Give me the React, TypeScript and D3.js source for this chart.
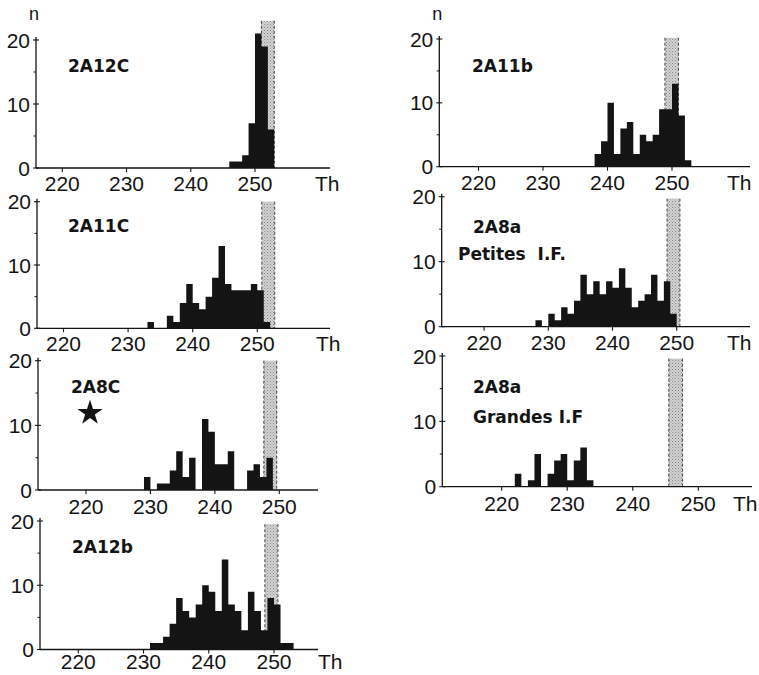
import React from "react";
import * as d3 from "d3";

// ---- data ----
const panelNames = ["2A12C", "2A11C", "2A8C", "2A12b", "2A11b", "2A8a", "2A8a"];
const panelSubtitles = ["", "", "", "", "", "Petites  I.F.", "Grandes I.F"];
const binStarts = [246, 233, 229, 231, 238, 228, 222];

const counts2A12C = [1, 1, 2, 7, 21, 19, 6];
const counts2A11C = [1, 0, 0, 2, 1, 4, 7, 4, 3, 5, 8, 13, 7, 6, 6, 6, 7, 6, 1];
const counts2A8C = [2, 0, 1, 1, 3, 6, 2, 5, 0, 11, 9, 4, 4, 6, 0, 0, 3, 4, 2, 5];
const counts2A12b = [1, 1, 2, 4, 8, 6, 5, 7, 10, 9, 6, 14, 7, 6, 3, 9, 6, 3, 8, 7, 1, 1];
const counts2A11b = [2, 4, 10, 2, 6, 7, 2, 5, 4, 5, 9, 9, 13, 8, 1];
const counts2A8aPetites = [1, 0, 2, 1, 3, 2, 4, 8, 5, 7, 5, 7, 6, 9, 6, 3, 4, 5, 8, 4, 7, 2];
const counts2A8aGrandes = [2, 0, 1, 5, 0, 2, 4, 5, 1, 4, 6, 1];
const panelCounts = [
  counts2A12C, counts2A11C, counts2A8C, counts2A12b,
  counts2A11b, counts2A8aPetites, counts2A8aGrandes,
];

const bandLow = [251, 250.7, 247.6, 248.6, 248.9, 248.5, 245.5];
const bandHigh = [253, 252.7, 249.6, 250.6, 251, 250.5, 247.6];
const bandTop = [23, 20, 20, 19.5, 20.2, 19.7, 19.6];

const xTickValues = [220, 230, 240, 250];
const yTickValues = [0, 10, 20];
const yMinorTicks = [5, 15];
const xAxisTitle = "Th";
const yAxisTitle = "n";

// ---- layout (pixel placement of each panel in the scanned figure) ----
type Layout = {
  axisX: number; axisEnd: number; y0: number; y20: number;
  a: [number, number]; b: [number, number];
  tickLabelDy: number;
  showTh: boolean; thX: number; showN: boolean;
  labelX: number; labelY: number; subX?: number; subY?: number;
  star?: [number, number];
};
const layouts: Layout[] = [
  { axisX: 36, axisEnd: 330, y0: 168, y20: 40, a: [220, 62.3], b: [250, 255], tickLabelDy: 23, showTh: true, thX: 315, showN: true, labelX: 68, labelY: 72 },
  { axisX: 37, axisEnd: 330, y0: 328.3, y20: 201.7, a: [240, 192.7], b: [250, 257.3], tickLabelDy: 23, showTh: true, thX: 316, showN: false, labelX: 68, labelY: 232 },
  { axisX: 38, axisEnd: 318, y0: 490, y20: 360.7, a: [220, 86], b: [250, 279.3], tickLabelDy: 23.5, showTh: false, thX: 0, showN: false, labelX: 71, labelY: 393, star: [90, 413] },
  { axisX: 40, axisEnd: 318, y0: 649.5, y20: 521, a: [230, 143.5], b: [250, 274], tickLabelDy: 19.5, showTh: true, thX: 318, showN: false, labelX: 72, labelY: 553 },
  { axisX: 439.3, axisEnd: 750, y0: 166.7, y20: 39, a: [230, 543], b: [250, 672], tickLabelDy: 23, showTh: true, thX: 727, showN: true, labelX: 472, labelY: 72 },
  { axisX: 441.7, axisEnd: 750, y0: 326.7, y20: 196.7, a: [230, 548.3], b: [250, 676.7], tickLabelDy: 23, showTh: true, thX: 727, showN: false, labelX: 473, labelY: 233, subX: 458, subY: 260 },
  { axisX: 442.3, axisEnd: 752, y0: 486.7, y20: 356, a: [220, 501.7], b: [250, 698.3], tickLabelDy: 24, showTh: true, thX: 733, showN: false, labelX: 473, labelY: 393, subX: 473, subY: 423 },
];

const INK = "#141414";
const NUM_FONT = "'Liberation Sans', Arial, sans-serif";
const LABEL_FONT = "'DejaVu Sans', sans-serif";

function Panel({ idx }: { idx: number }) {
  const L = layouts[idx];
  const x = d3.scaleLinear().domain([L.a[0], L.b[0]]).range([L.a[1], L.b[1]]);
  const y = d3.scaleLinear().domain([0, 20]).range([L.y0, L.y20]);
  const counts = panelCounts[idx];
  const start = binStarts[idx];
  const bx0 = x(bandLow[idx]);
  const bx1 = x(bandHigh[idx]);
  const byTop = y(bandTop[idx]);
  const starPath = d3.symbol().type(d3.symbolStar).size(200)() || "";
  // histogram outline as one stepped area (bin edges), so bins join without seams
  const stepPts: [number, number][] = counts.map((c, i) => [start + i, c] as [number, number]);
  stepPts.push([start + counts.length, counts[counts.length - 1]]);
  const histArea = d3
    .area<[number, number]>()
    .x((d) => x(d[0]))
    .y0(L.y0)
    .y1((d) => y(d[1]))
    .curve(d3.curveStepAfter);
  return (
    <g>
      {/* shaded band */}
      <rect x={bx0} y={byTop} width={bx1 - bx0} height={L.y0 - byTop} fill="url(#stipple)" />
      <line x1={bx0} x2={bx0} y1={byTop} y2={L.y0} stroke="#333" strokeWidth={0.9} strokeDasharray="3,2" />
      <line x1={bx1} x2={bx1} y1={byTop} y2={L.y0} stroke="#333" strokeWidth={0.9} strokeDasharray="3,2" />
      {/* bars */}
      <path d={histArea(stepPts) || ""} fill={INK} />
      {/* axes */}
      <line x1={L.axisX} x2={L.axisEnd} y1={L.y0} y2={L.y0} stroke={INK} strokeWidth={1.3} />
      <line x1={L.axisX} x2={L.axisX} y1={L.y0} y2={L.y20 - 3} stroke={INK} strokeWidth={1.3} />
      {yTickValues.map((v) => (
        <g key={v}>
          <line x1={L.axisX - 3} x2={L.axisX + 3} y1={y(v)} y2={y(v)} stroke={INK} strokeWidth={1.1} />
          <text x={L.axisX - 6} y={y(v) + 7.5} textAnchor="end" fontFamily={NUM_FONT} fontSize={21} fill={INK}>{v}</text>
        </g>
      ))}
      {yMinorTicks.map((v) => (
        <line key={v} x1={L.axisX - 2.5} x2={L.axisX} y1={y(v)} y2={y(v)} stroke={INK} strokeWidth={1} />
      ))}
      {xTickValues.map((v) => (
        <g key={v}>
          <line x1={x(v)} x2={x(v)} y1={L.y0} y2={L.y0 + 4} stroke={INK} strokeWidth={1.1} />
          <text x={x(v)} y={L.y0 + L.tickLabelDy} textAnchor="middle" fontFamily={NUM_FONT} fontSize={21} fill={INK}>{v}</text>
        </g>
      ))}
      {L.showTh && (
        <text x={L.thX} y={L.y0 + L.tickLabelDy} fontFamily={NUM_FONT} fontSize={21} fill={INK}>{xAxisTitle}</text>
      )}
      {L.showN && (
        <text x={L.axisX - 2} y={20} textAnchor="middle" fontFamily={NUM_FONT} fontSize={18} fill={INK}>{yAxisTitle}</text>
      )}
      <text x={L.labelX} y={L.labelY} fontFamily={LABEL_FONT} fontWeight="bold" fontSize={17} fill={INK}>{panelNames[idx]}</text>
      {panelSubtitles[idx] && L.subX !== undefined && (
        <text x={L.subX} y={L.subY} fontFamily={LABEL_FONT} fontWeight="bold" fontSize={17} fill={INK} style={{ whiteSpace: "pre" }}>{panelSubtitles[idx]}</text>
      )}
      {L.star && (
        <path d={starPath} transform={`translate(${L.star[0]},${L.star[1]})`} fill={INK} />
      )}
    </g>
  );
}

export default function App() {
  return (
    <svg width={759} height={675} style={{ position: "absolute", left: 0, top: 0, background: "#fff" }}>
      <defs>
        <pattern id="stipple" width={3} height={3} patternUnits="userSpaceOnUse">
          <rect width={3} height={3} fill="#d2d2d2" />
          <rect x={0} y={0} width={1} height={1} fill="#8a8a8a" />
          <rect x={1.5} y={1.5} width={1} height={1} fill="#a0a0a0" />
        </pattern>
      </defs>
      <rect width={759} height={675} fill="#fff" />
      {layouts.map((_, i) => (
        <Panel key={i} idx={i} />
      ))}
    </svg>
  );
}
